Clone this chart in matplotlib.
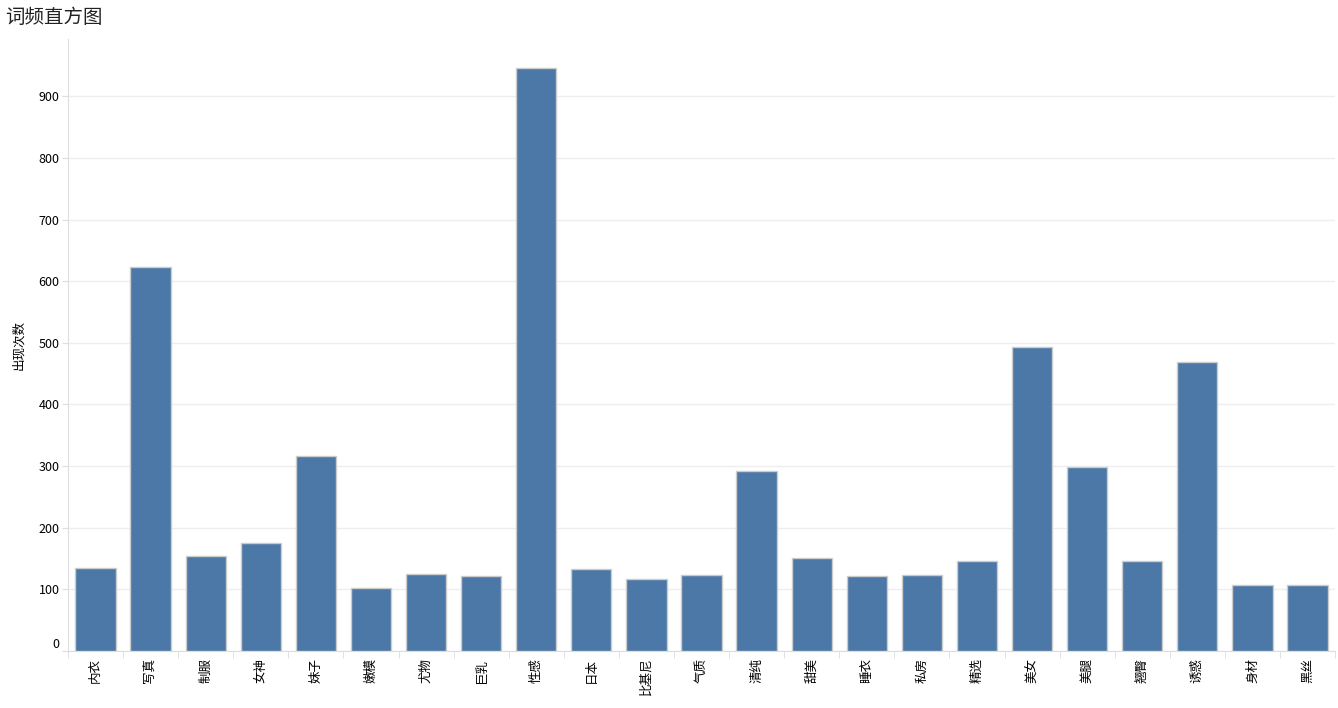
import matplotlib
matplotlib.use("Agg")
import matplotlib.pyplot as plt
import numpy as np

plt.rcParams['font.family'] = ['Noto Sans CJK SC', 'DejaVu Sans']

# word frequency data
words = ['内衣', '写真', '制服', '女神', '妹子', '嫩模', '尤物', '巨乳', '性感', '日本',
         '比基尼', '气质', '清纯', '甜美', '睡衣', '私房', '精选', '美女', '美腿', '翘臀',
         '诱惑', '身材', '黑丝']
counts = [134, 623, 154, 175, 316, 102, 125, 122, 946, 133,
          117, 123, 292, 151, 121, 123, 146, 493, 299, 146,
          469, 107, 107]

fig = plt.figure(figsize=(13.38, 7.08), dpi=100)
ax = fig.add_axes([0.0508, 0.0808, 0.947, 0.864])

x = np.arange(len(words))
ax.bar(x, counts, width=0.73, color='#4c78a8', edgecolor='#cccccc', linewidth=1.0, zorder=3)

ax.set_xlim(-0.5, len(words) - 0.5)
ax.set_ylim(0, 993)
ax.set_yticks(range(0, 1000, 100))
ax.set_xticks(x)
ax.set_xticklabels(words, rotation=90, fontsize=9)
ax.set_xticks(np.arange(-0.5, len(words), 1), minor=True)
ax.tick_params(axis='x', which='major', length=0, pad=5)
ax.tick_params(axis='x', which='minor', length=5, color='#dddddd')
ax.tick_params(axis='y', length=4, color='#dddddd', labelsize=9, pad=2)

# lowest label sits flush above the axis bottom
ax.get_yticklabels()[0].set_verticalalignment('bottom')

ax.grid(axis='y', color='#eeeeee', linewidth=1, zorder=0)
for side in ['top', 'right']:
    ax.spines[side].set_visible(False)
ax.spines['left'].set_color('#dddddd')
ax.spines['bottom'].set_color('#dddddd')

ax.set_ylabel('出现次数', fontsize=9, labelpad=10)
fig.text(0.004, 0.975, '词频直方图', fontsize=14, color='#222222', va='center', ha='left')

fig.savefig('out.png', dpi=100)
